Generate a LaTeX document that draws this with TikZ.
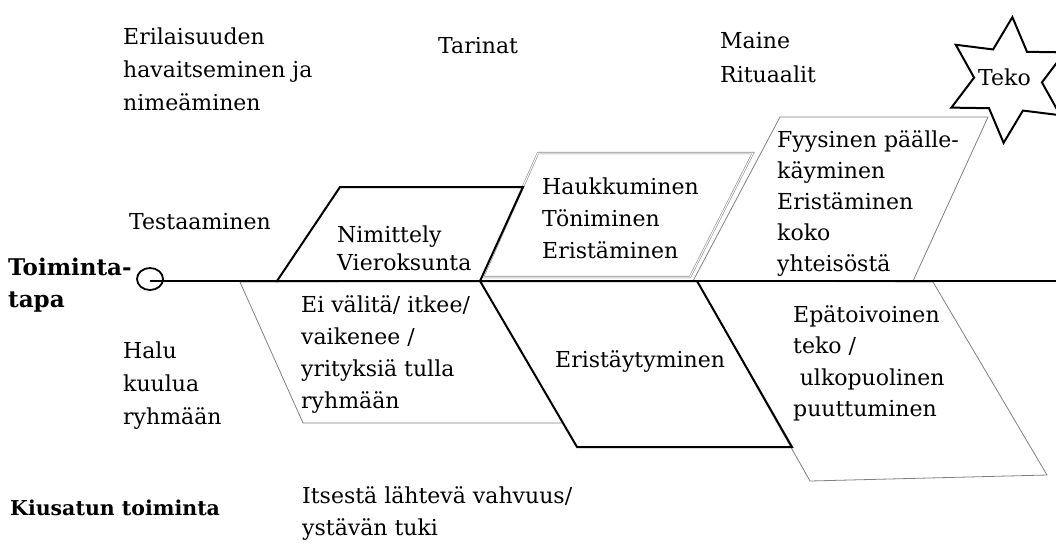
\documentclass[tikz,border=0pt]{standalone}
\usepackage{fontspec}
\usetikzlibrary{shapes.geometric}
\setmainfont{DejaVu Serif}
\newcommand{\lblock}[1]{\begin{tabular}[t]{@{}l@{}}#1\end{tabular}}
\tikzset{
  boldline/.style={line width=2pt, draw=black, line join=miter},
  thinline/.style={line width=0.8pt, draw=black!50},
  dblline/.style={line width=0.6pt, draw=black!45, double=white, double distance=1pt},
  lbl/.style={anchor=base west, inner sep=0pt, font=\fontsize{22}{#1}\selectfont},
  lbl/.default=32pt,
  boldlbl/.style={anchor=base west, inner sep=0pt, font=\fontsize{#1}{32}\selectfont\bfseries},
}
\begin{document}
\begin{tikzpicture}[x=1pt, y=-1pt]
\useasboundingbox (0,0) rectangle (1056,547);
\begin{scope}
\clip (0,0) rectangle (1056,547);

% corner points of the boxes above the line
\coordinate (a1) at (340,187); \coordinate (a2) at (523,187);
\coordinate (a3) at (480,281); \coordinate (a4) at (277,281);
\coordinate (b1) at (538,153); \coordinate (b2) at (753,153);
\coordinate (b3) at (690,277); \coordinate (b4) at (483,277);
\coordinate (c1) at (780,117); \coordinate (c2) at (988,117);
\coordinate (c3) at (913,281); \coordinate (c4) at (693,281);
% corner points of the boxes below the line
\coordinate (d1) at (240,282); \coordinate (d2) at (480,281);
\coordinate (d3) at (563,423); \coordinate (d4) at (303,423);
\coordinate (e1) at (480,281); \coordinate (e2) at (697,281);
\coordinate (e3) at (792,447); \coordinate (e4) at (577,447);
\coordinate (f1) at (697,281); \coordinate (f2) at (933,282);
\coordinate (f3) at (1047,475); \coordinate (f4) at (810,481);

% thin grey boxes
\draw[dblline] (b1) -- (b2) -- (b3) -- (b4) -- cycle;
\draw[thinline] (c1) -- (c2) -- (c3) -- (c4) -- cycle;
\draw[thinline] (d1) -- (d2) -- (d3) -- (d4) -- cycle;
\draw[thinline] (f1) -- (f2) -- (f3) -- (f4) -- cycle;
% bold boxes
\draw[boldline] (a1) -- (a2) -- (a3) -- (a4) -- cycle;
\draw[boldline] (e1) -- (e2) -- (e3) -- (e4) -- cycle;

% the axis with its starting circle
\node (start) [draw, line width=1.8pt, ellipse, minimum width=26pt, minimum height=22pt, inner sep=0pt] at (150,279) {};
\coordinate (axisend) at (1056,281);
\draw[boldline] (start.center) ++(0,2) -- (axisend);

% star
\coordinate (starc) at (1008,80);
\draw[line width=2pt, fill=white, line join=miter]
  ([shift={(-86:63)}]starc)
  \foreach \k in {0,...,5}{
    -- ([shift={(-116-60*\k:34)}]starc)
    -- ([shift={(-146-60*\k:63)}]starc)
  } -- cycle;
\node (teko) [lbl] at (978,85) {Teko};

% texts above the line
\node (erilaisuus) [lbl=33pt] at (123,44) {\lblock{Erilaisuuden\\havaitseminen ja\\nimeäminen}};
\node (tarinat) [lbl] at (438,53) {Tarinat};
\node (maine) [lbl=34pt] at (720,48) {\lblock{Maine\\Rituaalit}};
\node (testaus) [lbl] at (129,229) {Testaaminen};
\node (nimittely) [lbl=28pt] at (337,242) {\lblock{Nimittely\\Vieroksunta}};
\node (haukku) [lbl=32pt] at (542,194) {\lblock{Haukkuminen\\Töniminen\\Eristäminen}};
\node (fyysinen) [lbl=31pt] at (777,147) {\lblock{Fyysinen päälle-\\käyminen\\Eristäminen\\koko\\yhteisöstä}};

% texts below the line
\node (toimintatapa) [boldlbl=23] at (8,275) {\lblock{Toiminta-\\tapa}};
\node (halu) [lbl=33pt] at (123,358) {\lblock{Halu\\kuulua\\ryhmään}};
\node (eivalita) [lbl=32pt] at (301,312) {\lblock{Ei välitä/ itkee/\\vaikenee /\\yrityksiä tulla\\ryhmään}};
\node (eristaytyminen) [lbl] at (555,367) {Eristäytyminen};
\node (epatoivo) [lbl=31.5pt] at (793,322) {\lblock{Epätoivoinen\\teko /\\\hspace*{0.3em}ulkopuolinen\\puuttuminen}};
\node (kiusattu) [boldlbl=20.5] at (10,515) {Kiusatun toiminta};
\node (itsesta) [lbl=32pt] at (302,503) {\lblock{Itsestä lähtevä vahvuus/\\ystävän tuki}};
\end{scope}
\end{tikzpicture}
\end{document}
